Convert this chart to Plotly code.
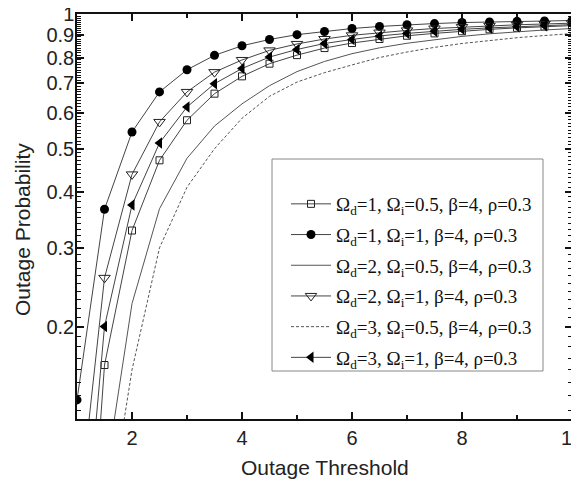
import plotly.graph_objects as go

x_vals = [1, 1.5, 2, 2.5, 3, 3.5, 4, 4.5, 5, 5.5, 6, 6.5, 7, 7.5, 8, 8.5, 9, 9.5, 10]

p_d1_i05 = [0.022, 0.164, 0.328, 0.471, 0.579, 0.664, 0.726, 0.775, 0.810, 0.840, 0.862, 0.880, 0.895, 0.906, 0.916, 0.925, 0.932, 0.938, 0.943]
p_d1_i1 = [0.137, 0.366, 0.545, 0.670, 0.751, 0.809, 0.850, 0.878, 0.900, 0.915, 0.929, 0.939, 0.947, 0.953, 0.958, 0.961, 0.964, 0.966, 0.968]
p_d2_i05 = [0.015, 0.089, 0.225, 0.367, 0.476, 0.562, 0.630, 0.692, 0.744, 0.784, 0.816, 0.841, 0.861, 0.878, 0.892, 0.904, 0.914, 0.922, 0.929]
p_d2_i1 = [0.070, 0.257, 0.438, 0.574, 0.670, 0.742, 0.790, 0.830, 0.858, 0.880, 0.897, 0.910, 0.920, 0.929, 0.936, 0.942, 0.947, 0.951, 0.955]
p_d3_i05 = [0.010, 0.065, 0.160, 0.300, 0.410, 0.500, 0.585, 0.655, 0.705, 0.740, 0.770, 0.800, 0.823, 0.843, 0.860, 0.874, 0.886, 0.896, 0.905]
p_d3_i1 = [0.041, 0.200, 0.374, 0.515, 0.620, 0.699, 0.756, 0.802, 0.834, 0.860, 0.878, 0.894, 0.906, 0.916, 0.925, 0.932, 0.938, 0.943, 0.948]

names = [
    "Ω<sub>d</sub>=1, Ω<sub>i</sub>=0.5, β=4, ρ=0.3",
    "Ω<sub>d</sub>=1, Ω<sub>i</sub>=1, β=4, ρ=0.3",
    "Ω<sub>d</sub>=2, Ω<sub>i</sub>=0.5, β=4, ρ=0.3",
    "Ω<sub>d</sub>=2, Ω<sub>i</sub>=1, β=4, ρ=0.3",
    "Ω<sub>d</sub>=3, Ω<sub>i</sub>=0.5, β=4, ρ=0.3",
    "Ω<sub>d</sub>=3, Ω<sub>i</sub>=1, β=4, ρ=0.3",
]
series = [p_d1_i05, p_d1_i1, p_d2_i05, p_d2_i1, p_d3_i05, p_d3_i1]

x_title = "Outage Threshold"
y_title = "Outage Probability"

y_major = [0.2, 0.3, 0.4, 0.5, 0.6, 0.7, 0.8, 0.9, 1]
y_major_text = ["0.2", "0.3", "0.4", "0.5", "0.6", "0.7", "0.8", "0.9", "1"]
y_minor = [round(0.13 + 0.01 * k, 2) for k in range(87)]
x_major = [2, 4, 6, 8, 10]
x_minor = [3, 5, 7, 9]

styles = [
    dict(mode="lines+markers", marker=dict(symbol="square-open", size=7, color="#222", line=dict(width=1, color="#222")), line=dict(color="#444", width=1)),
    dict(mode="lines+markers", marker=dict(symbol="circle", size=9, color="#000"), line=dict(color="#444", width=1)),
    dict(mode="lines", line=dict(color="#555", width=1)),
    dict(mode="lines+markers", marker=dict(symbol="triangle-down-open", size=10, color="#222", line=dict(width=1, color="#222")), line=dict(color="#444", width=1)),
    dict(mode="lines", line=dict(color="#555", width=1, dash="3px,2px")),
    dict(mode="lines+markers", marker=dict(symbol="triangle-left", size=10, color="#000"), line=dict(color="#444", width=1)),
]

fig = go.Figure()
for k, (nm, ys, st) in enumerate(zip(names, series, styles)):
    fig.add_trace(go.Scatter(x=x_vals, y=ys, name=nm, legendgroup="g%d" % k, **st))

# page body adds an 8px offset; figure sized so its box ends at the window edge
OFF = 8
FW, FH = 579 - OFF, 484 - OFF
L, R, T = 77 - OFF, 579 - 572, 14 - OFF
B = FH - (419 - OFF)
PW, PH = FW - L - R, FH - T - B


def px(sx):
    return (sx - OFF - L) / PW


def py(sy):
    return (FH - B - (sy - OFF)) / PH


axis_font = dict(family="Liberation Sans, Arial", size=20, color="#222")
title_font = dict(family="Liberation Sans, Arial", size=21, color="#222")
fig.update_layout(
    width=FW, height=FH,
    margin=dict(l=L, r=R, t=T, b=B),
    paper_bgcolor="white", plot_bgcolor="white",
    font=axis_font,
    showlegend=True,
    legend=dict(
        x=px(286), y=py(185), xanchor="left", yanchor="top",
        bgcolor="rgba(0,0,0,0)", borderwidth=0,
        font=dict(family="Liberation Serif, Times New Roman", size=19, color="#111"),
        itemwidth=40, traceorder="grouped", tracegroupgap=3,
    ),
    shapes=[dict(type="rect", xref="paper", yref="paper",
                 x0=px(272), x1=px(543), y0=py(371), y1=py(159),
                 line=dict(color="#888", width=1))],
    annotations=[
        dict(text=y_title, xref="paper", yref="paper",
             x=px(22), y=py(230), xanchor="center", yanchor="middle",
             textangle=-90, showarrow=False, font=title_font),
        dict(text=x_title, xref="paper", yref="paper",
             x=px(325), y=py(468), xanchor="center", yanchor="middle",
             showarrow=False, font=title_font),
    ],
)
fig.update_xaxes(
    range=[1, 10], showgrid=False, zeroline=False, automargin=False,
    showline=True, linecolor="#111", linewidth=1.5, mirror="ticks",
    ticks="inside", ticklen=7, tickwidth=1.5, tickcolor="#111",
    tickvals=x_major, ticktext=[str(v) for v in x_major],
    ticklabeloverflow="allow", ticklabelstandoff=0,
    minor=dict(tickvals=x_minor, ticks="inside", ticklen=4, tickwidth=1.5, tickcolor="#111"),
    tickfont=axis_font,
)
fig.update_yaxes(
    type="log", range=[-0.906, 0.0005], showgrid=False, zeroline=False, automargin=False,
    showline=True, linecolor="#111", linewidth=1.5, mirror="ticks",
    ticks="inside", ticklen=7, tickwidth=1.5, tickcolor="#111",
    tickvals=y_major, ticktext=y_major_text,
    ticklabeloverflow="allow", ticklabelstandoff=-3,
    minor=dict(tickvals=y_minor, ticks="inside", ticklen=4, tickwidth=1, tickcolor="#111"),
    tickfont=axis_font,
)

fig.write_html("out.html")
